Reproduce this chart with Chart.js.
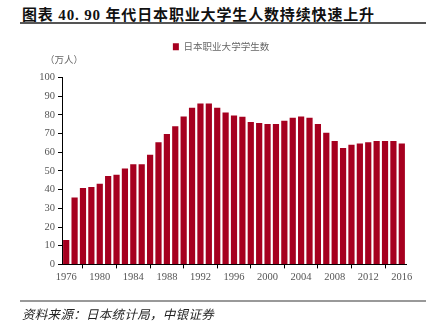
<!DOCTYPE html>
<html>
<head>
<meta charset="utf-8">
<script src="https://cdn.jsdelivr.net/npm/chart.js@4.4.1/dist/chart.umd.min.js"></script>
<style>
  body { margin: 0; background: #fff; width: 439px; height: 331px; overflow: hidden; position: relative; }
  #title { position: absolute; left: 22px; top: 3px; font: bold 15px "Liberation Serif", "Noto Sans CJK SC", serif; color: #111; white-space: nowrap; letter-spacing: 0.85px; }
  .rule { position: absolute; left: 20px; width: 406px; }
  #unit { position: absolute; left: 45px; top: 52px; font: 9.5px "Noto Sans CJK SC", serif; color: #666; }
  #source { position: absolute; left: 22px; top: 304px; font: italic 12.5px "Noto Sans CJK SC", sans-serif; color: #222; white-space: nowrap; letter-spacing: 0.3px; }
  #wrap { position: absolute; left: 0; top: 0; width: 439px; height: 331px; }
</style>
</head>
<body>
<div id="title">图表 40. 90 年代日本职业大学生人数持续快速上升</div>
<div class="rule" style="top:22px;height:2px;background:#555;"></div>
<div id="wrap"><canvas id="chart"></canvas></div>
<div id="unit">（万人）</div>
<div class="rule" style="top:300px;height:2px;background:#999;"></div>
<div id="source">资料来源：日本统计局，中银证券</div>
<script>
// 日本职业大学学生数（万人）, 1976-2016
const years = ['1976','1977','1978','1979','1980','1981','1982','1983','1984','1985',
    '1986','1987','1988','1989','1990','1991','1992','1993','1994','1995',
    '1996','1997','1998','1999','2000','2001','2002','2003','2004','2005',
    '2006','2007','2008','2009','2010','2011','2012','2013','2014','2015','2016'];
const students = [13.0, 35.8, 40.9, 41.4, 43.2, 47.3, 48.0, 51.3, 53.6, 53.6,
    58.7, 65.3, 69.8, 73.9, 79.2, 83.8, 86.1, 86.1, 83.8, 81.3,
    79.7, 79.0, 76.2, 75.7, 75.1, 75.1, 76.9, 78.5, 79.2, 78.5,
    75.1, 70.5, 66.0, 62.3, 64.0, 64.7, 65.3, 66.0, 66.0, 66.0, 64.7];
const xTickLabels = ['1976','1980','1984','1988','1992','1996','2000','2004','2008','2012','2016'];
const yMin = 0, yMax = 100, yStep = 10;

const barColor = '#a6001f';
const tickFont = { family: '"Liberation Serif", serif', size: 10.5 };

// push the plot down below the legend
const legendGap = {
    id: 'legendGap',
    beforeInit(chart) {
        const fit = chart.legend.fit;
        chart.legend.fit = function() {
            fit.bind(chart.legend)();
            this.height += 16;
        };
    }
};

new Chart(document.getElementById('chart').getContext('2d'), {
    type: 'bar',
    data: {
        labels: years,
        datasets: [{
            label: '日本职业大学学生数',
            data: students,
            backgroundColor: barColor,
            borderWidth: 0,
            barPercentage: 0.74,
            categoryPercentage: 1
        }]
    },
    options: {
        responsive: true,
        maintainAspectRatio: false,
        animation: false,
        layout: { padding: { left: 36, right: 33, top: 36, bottom: 44 } },
        plugins: {
            legend: {
                display: true,
                labels: {
                    boxWidth: 6,
                    boxHeight: 7,
                    color: '#666',
                    font: { family: '"Noto Sans CJK SC", serif', size: 9.5 },
                    padding: 6
                }
            },
            tooltip: { enabled: false }
        },
        scales: {
            x: {
                offset: true,
                grid: {
                    offset: true,
                    drawOnChartArea: false,
                    tickLength: 4,
                    color: '#000'
                },
                border: { display: true, color: '#000', width: 1 },
                ticks: {
                    autoSkip: false,
                    maxRotation: 0,
                    color: '#555',
                    font: tickFont,
                    padding: 3,
                    callback: function(value) {
                        const lab = this.getLabelForValue(value);
                        return xTickLabels.includes(lab) ? lab : null;
                    }
                }
            },
            y: {
                min: yMin,
                max: yMax,
                afterFit: function(scale) { scale.width = 26; },
                grid: {
                    drawOnChartArea: false,
                    tickLength: 4,
                    color: '#000'
                },
                border: { display: true, color: '#000', width: 1 },
                ticks: {
                    stepSize: yStep,
                    color: '#555',
                    font: tickFont,
                    padding: 3
                }
            }
        }
    },
    plugins: [legendGap]
});
</script>
</body>
</html>
